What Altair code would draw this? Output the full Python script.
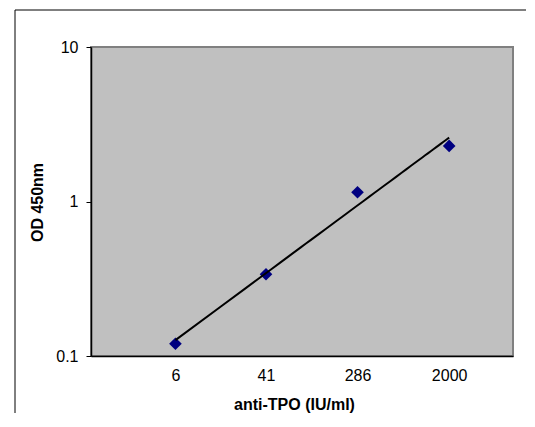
import altair as alt
import pandas as pd

conc = [6, 41, 286, 2000]
od = [0.120, 0.338, 1.147, 2.29]
x_ticks = [6, 41, 286, 2000]
y_ticks = [0.1, 1, 10]

df = pd.DataFrame({"conc": conc, "od": od})

FONT = "Liberation Sans"

xscale = alt.Scale(type="log", domain=[1, 7750], nice=False)
yscale = alt.Scale(type="log", domain=[0.1, 10], nice=False)

xaxis = alt.Axis(
    values=x_ticks, format="~g", title="anti-TPO (IU/ml)", grid=False,
    ticks=False, tickSize=0, labelPadding=11, labelFontSize=16, labelColor="black",
    labelFont=FONT, domainColor="black", domainWidth=1.5,
    titleFont=FONT, titleFontSize=16, titleFontWeight="bold", titleColor="black",
    titleX=203, titleY=53, titleBaseline="alphabetic", titleAnchor="start", titleAlign="center",
)
yaxis = alt.Axis(
    values=y_ticks, format="~g", title="OD 450nm", grid=False,
    tickSize=5, tickColor="black", labelPadding=8, labelFontSize=16,
    labelColor="black", labelFont=FONT, domainColor="black", domainWidth=1.5,
    titleFont=FONT, titleFontSize=16, titleFontWeight="bold", titleColor="black",
    titleX=-49, titleY=155, titleAngle=270, titleBaseline="alphabetic", titleAlign="center",
)

one = pd.DataFrame({"k": [0]})
frame_top = alt.Chart(one).mark_rule(color="black", strokeWidth=1).encode(
    x=alt.value(-76), x2=alt.value(435), y=alt.value(-37)
)
frame_left = alt.Chart(one).mark_rule(color="black", strokeWidth=1).encode(
    x=alt.value(-76), y=alt.value(-37), y2=alt.value(366)
)

points = alt.Chart(df).mark_point(
    shape="diamond", filled=True, size=160, color="#000080", opacity=1
).encode(
    x=alt.X("conc:Q", scale=xscale, axis=xaxis),
    y=alt.Y("od:Q", scale=yscale, axis=yaxis),
)

trend = alt.Chart(df).transform_regression(
    "conc", "od", method="pow"
).mark_line(color="black", strokeWidth=2).encode(
    x=alt.X("conc:Q", scale=xscale),
    y=alt.Y("od:Q", scale=yscale),
)

chart = alt.layer(frame_top, frame_left, points, trend).properties(
    width=422, height=309,
    background="white",
    autosize=alt.AutoSizeParams(type="none"),
    padding={"left": 83, "top": 39, "right": 14, "bottom": 58},
).configure_view(
    fill="#C0C0C0", stroke="#808080", strokeWidth=2
)

chart.save("out.html", embed_options={"renderer": "svg", "actions": False})
